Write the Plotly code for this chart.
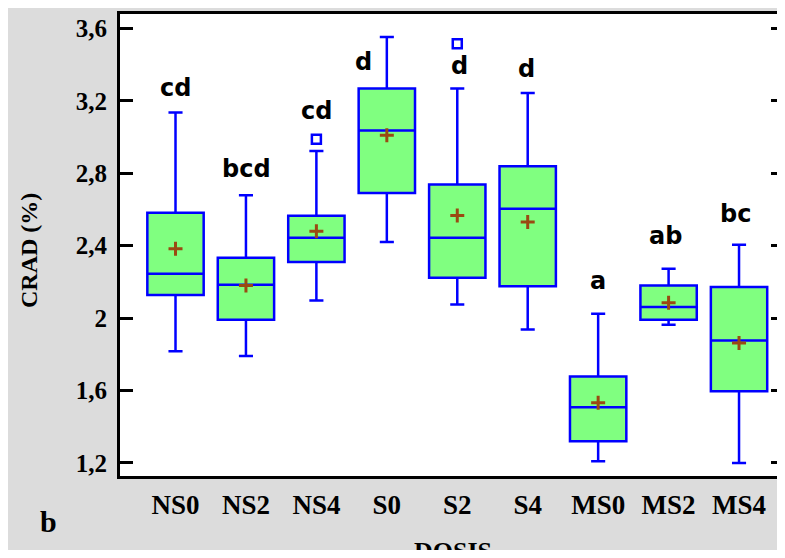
import plotly.graph_objects as go

# ---------------- data ----------------
categories = ["NS0", "NS2", "NS4", "S0", "S2", "S4", "MS0", "MS2", "MS4"]
lower_fence = [1.817, 1.790, 2.097, 2.420, 2.075, 1.937, 1.209, 1.963, 1.200]
q1_vals     = [2.127, 1.991, 2.309, 2.690, 2.223, 2.176, 1.320, 1.991, 1.596]
median_vals = [2.245, 2.184, 2.444, 3.036, 2.444, 2.604, 1.508, 2.061, 1.876]
q3_vals     = [2.581, 2.333, 2.565, 3.267, 2.738, 2.838, 1.677, 2.180, 2.171]
upper_fence = [3.135, 2.678, 2.922, 3.552, 3.267, 3.243, 2.024, 2.272, 2.405]
mean_vals   = [2.383, 2.180, 2.480, 3.009, 2.567, 2.530, 1.532, 2.085, 1.863]

outlier_cats = ["NS4", "S2"]
outlier_vals = [2.987, 3.515]

letters = ["cd", "bcd", "cd", "d", "d", "d", "a", "ab", "bc"]
letter_baseline = [3.220, 2.771, 3.093, 3.366, 3.342, 3.325, 2.155, 2.403, 2.524]
letter_xshift = [0, 1, 0, -23, 2, -1, 0, -3, -4]

ytick_vals = [1.2, 1.6, 2.0, 2.4, 2.8, 3.2, 3.6]
ytick_text = ["1,2", "1,6", "2", "2,4", "2,8", "3,2", "3,6"]

# ---------------- layout geometry (figure pixels; page adds 8px body margin) ----------------
OFF = 8
W, H = 769, 542
L, R, T, B = 112, 0, 6, 74
PW, PH = W - L - R, H - T - B


def px_x(sx):
    return (sx - OFF - L) / PW


def px_y(sy):
    return (H - B - (sy - OFF)) / PH


BLUE = "#0000ff"
GREEN = "#80ff80"
BROWN = "#9a4a12"
SERIF = "Liberation Serif"

fig = go.Figure()

fig.add_trace(go.Box(
    x=categories,
    q1=q1_vals, median=median_vals, q3=q3_vals,
    lowerfence=lower_fence, upperfence=upper_fence,
    fillcolor=GREEN,
    line=dict(color=BLUE, width=2.5),
    whiskerwidth=0.25,
    width=0.8,
    boxpoints=False,
    showlegend=False,
    hoverinfo="skip",
))

fig.add_trace(go.Scatter(
    x=categories, y=mean_vals, mode="markers",
    marker=dict(symbol="cross-thin", size=10, line=dict(color=BROWN, width=3), color=BROWN),
    showlegend=False, hoverinfo="skip",
))

fig.add_trace(go.Scatter(
    x=outlier_cats, y=outlier_vals, mode="markers",
    marker=dict(symbol="square-open", size=9, line=dict(color=BLUE, width=2.5), color=BLUE),
    showlegend=False, hoverinfo="skip",
))

annotations = []
for cat, txt, yb, xs in zip(categories, letters, letter_baseline, letter_xshift):
    annotations.append(dict(
        x=cat, y=yb, xref="x", yref="y", text=txt, showarrow=False,
        yanchor="bottom", xanchor="center", yshift=-7, xshift=xs,
        font=dict(family="DejaVu Sans", size=24, color="black", weight="bold"),
    ))

# y axis title
annotations.append(dict(
    x=px_x(29), y=px_y(251), xref="paper", yref="paper", text="CRAD (%)",
    showarrow=False, textangle=-90, xanchor="center", yanchor="middle",
    font=dict(family=SERIF, size=24, color="black", weight="bold"),
))
# x axis title (cut at bottom edge)
annotations.append(dict(
    x=px_x(453), y=px_y(535), xref="paper", yref="paper", text="DOSIS",
    showarrow=False, xanchor="center", yanchor="top",
    font=dict(family=SERIF, size=26, color="black", weight="bold"),
))
# panel letter
annotations.append(dict(
    x=px_x(48), y=px_y(521), xref="paper", yref="paper", text="b",
    showarrow=False, xanchor="center", yanchor="middle",
    font=dict(family=SERIF, size=30, color="black", weight="bold"),
))

fig.update_layout(
    width=W, height=H,
    margin=dict(l=L, r=R, t=T, b=B, pad=0),
    paper_bgcolor="#dcdcdc",
    plot_bgcolor="white",
    showlegend=False,
    annotations=annotations,
    xaxis=dict(
        type="category", range=[-0.788, 8.539],
        showline=True, linecolor="black", linewidth=3, mirror=True,
        showgrid=False, zeroline=False, ticks="",
        tickfont=dict(family=SERIF, size=27, color="black", weight="bold"),
        ticklabelstandoff=3,
    ),
    yaxis=dict(
        range=[1.128, 3.679],
        tickvals=ytick_vals, ticktext=ytick_text,
        showline=True, linecolor="black", linewidth=3,
        showgrid=False, zeroline=False,
        ticks="inside", ticklen=13, tickwidth=3, tickcolor="black",
        tickfont=dict(family=SERIF, size=25, color="black", weight="bold"),
        ticklabelstandoff=5,
    ),
    yaxis2=dict(
        overlaying="y", side="right", anchor="x", range=[1.128, 3.679],
        tickvals=ytick_vals, showticklabels=False,
        showline=False, showgrid=False, zeroline=False,
        ticks="inside", ticklen=6, tickwidth=3, tickcolor="black",
    ),
)

# invisible point so that the right-hand tick axis is drawn
fig.add_trace(go.Scatter(x=[categories[0]], y=[ytick_vals[0]], yaxis="y2",
                         mode="markers", marker=dict(opacity=0), showlegend=False,
                         hoverinfo="skip"))

fig.write_html("out.html")
